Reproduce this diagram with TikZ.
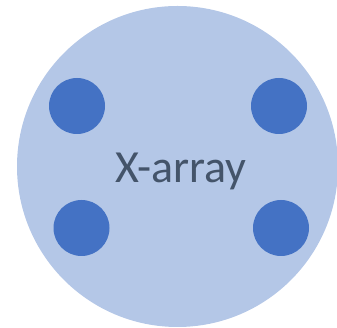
\documentclass[tikz,border=0pt]{standalone}
\usepackage{fontspec}
\setmainfont{Carlito}
\definecolor{bigfill}{HTML}{B4C7E7}
\definecolor{dotfill}{HTML}{4472C4}
\definecolor{txtcol}{HTML}{44546A}
\begin{document}
\begin{tikzpicture}[x=1pt,y=1pt,
  dot/.style={circle,fill=dotfill,minimum size=56pt,inner sep=0pt},
  lbl/.style={text=txtcol,font=\fontsize{46}{50}\selectfont,inner sep=0pt,anchor=base}]
\useasboundingbox (0,0) rectangle (337,328);
\clip (0,0) rectangle (337,328);
\node[circle,fill=bigfill,minimum size=321pt,inner sep=0pt] (big) at (177.5,161.5) {};
\node[dot] (tl) at (77,222) {};
\node[dot] (tr) at (279,222) {};
\node[dot] (bl) at (81.5,100) {};
\node[dot] (br) at (281,100) {};
\node[lbl] (t) at (181,145) {X-array};
\end{tikzpicture}
\end{document}
